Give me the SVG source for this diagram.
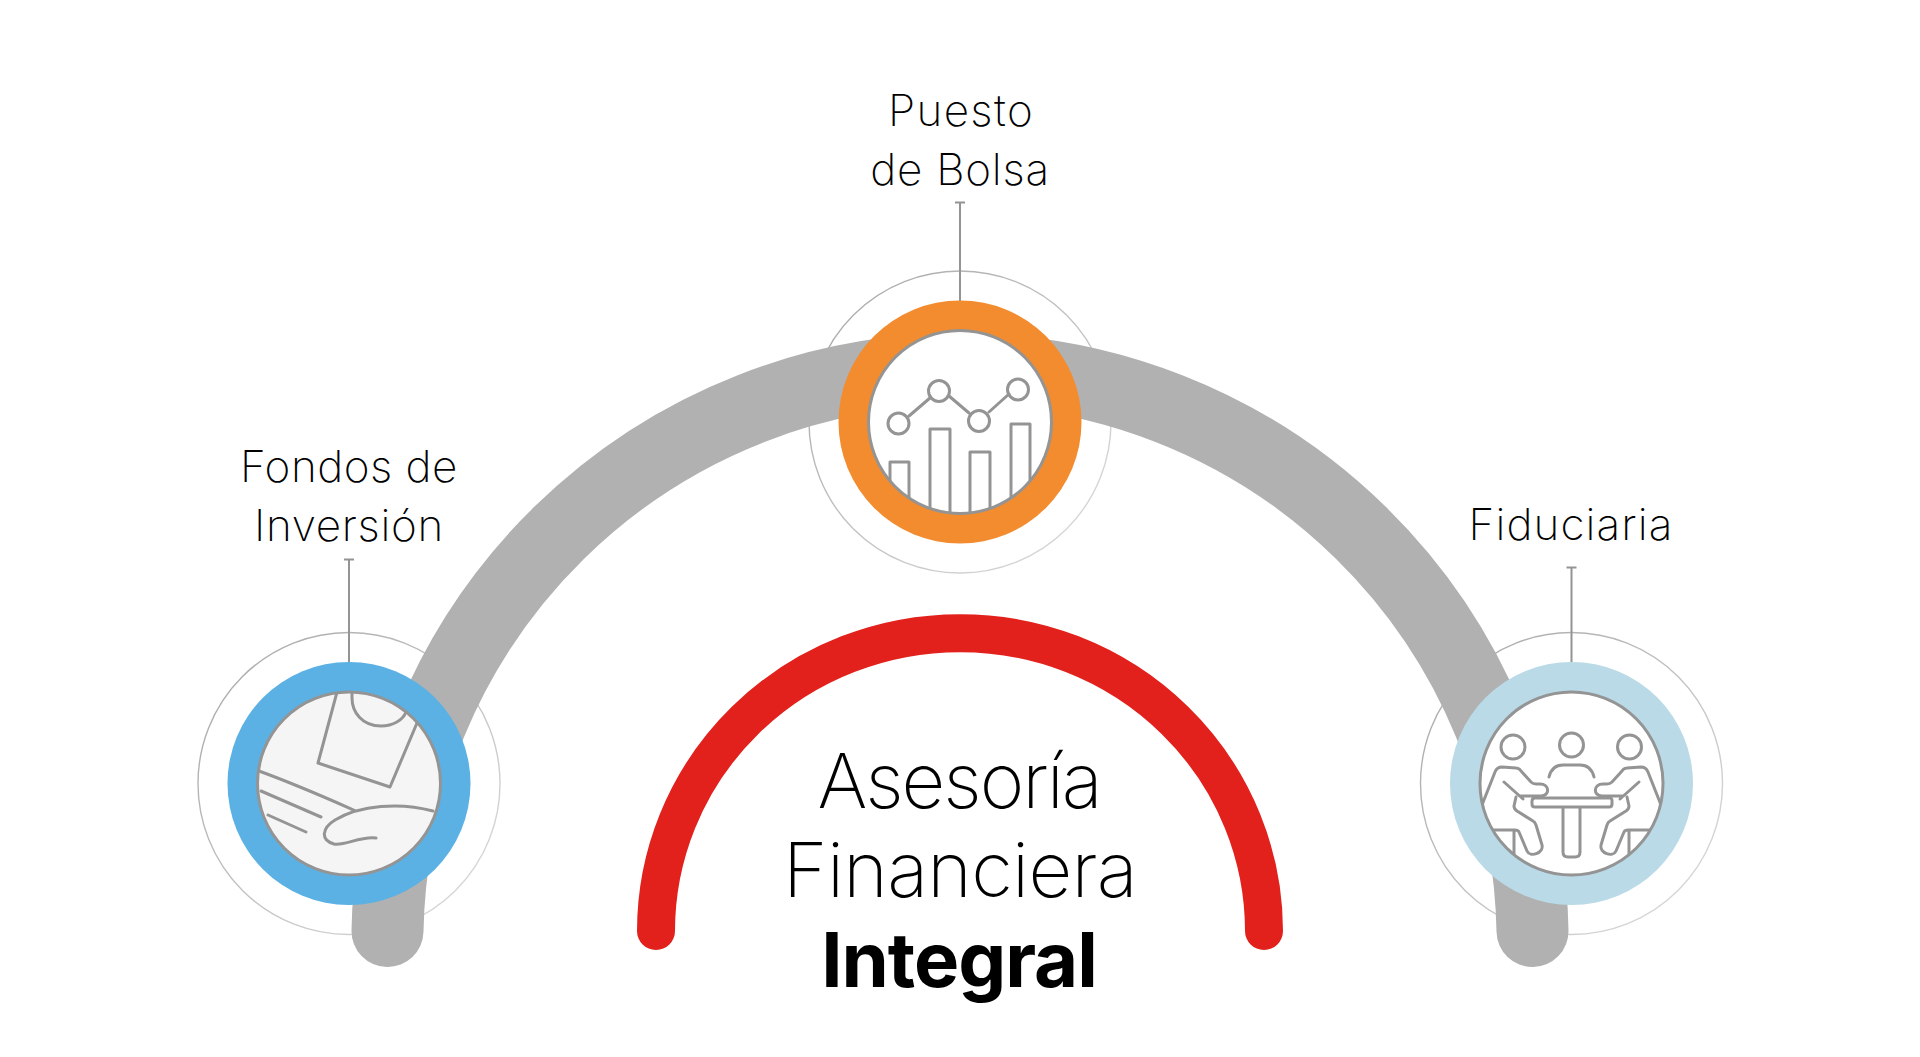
<svg xmlns="http://www.w3.org/2000/svg" width="1920" height="1057" viewBox="0 0 1920 1057">
<style>
.t{font-family:"Inter","Liberation Sans",sans-serif;font-weight:200;fill:#000;text-anchor:middle}
.l{font-size:44px}
.h{font-size:76px}
.halo{fill:#fff;stroke:url(#hg);stroke-width:1.4}
.inner{stroke:#949494;stroke-width:3}
.i{fill:none;stroke:#949494;stroke-width:3;stroke-linecap:round;stroke-linejoin:round}
.lead{fill:none;stroke:#949494;stroke-width:2}
</style>
<defs>
<linearGradient id="hg" x1="0" y1="0" x2="1" y2="1"><stop offset="0" stop-color="#a6a6a6"/><stop offset="1" stop-color="#dedede"/></linearGradient>
<clipPath id="c1"><circle cx="349" cy="783.5" r="91"/></clipPath>
<clipPath id="c2"><circle cx="960" cy="422" r="91"/></clipPath>
<clipPath id="c3"><circle cx="1571.5" cy="783.5" r="91"/></clipPath>
</defs>
<rect width="1920" height="1057" fill="#fff"/>
<g id="halos">
<circle class="halo" cx="349" cy="783.5" r="151"/>
<circle class="halo" cx="960" cy="422" r="151"/>
<circle class="halo" cx="1571.5" cy="783.5" r="151"/>
</g>
<g id="connectors">
<path d="M387.500 931A572.600 572.600 0 0 1 1532.500 931" fill="none" stroke="#b1b1b1" stroke-width="72" stroke-linecap="round"/>
<path class="lead" d="M349 559V680M344 559.500H354"/>
<path class="lead" d="M960 203V301M955 202.500H965"/>
<path class="lead" d="M1571.500 567V662M1566.500 567.500H1576.500"/>
</g>
<g id="arc-integral">
<path d="M656 931A304 298 0 0 1 1264 931" fill="none" stroke="#e2211c" stroke-width="38" stroke-linecap="round"/>
<text class="t h" x="959" y="808" letter-spacing="-2">Asesoría</text>
<text class="t h" x="960" y="897" letter-spacing="-0.7">Financiera</text>
<text class="t h" x="959" y="987" letter-spacing="-1" style="font-weight:700">Integral</text>
</g>
<g id="node-fondos">
<circle cx="349" cy="783.500" r="121.500" fill="#5bb1e3"/>
<circle class="inner" cx="349" cy="783.500" r="91.500" fill="#f5f5f5"/>
<g clip-path="url(#c1)"><path class="i" d="M337 692L318 763L390 787L417 723M352 690V698C352 712 362 726 381 726C393 726 403 720 406 712M259 771C300 786 340 804 356 811M261 791L321 817M268 815L306 832M433 811C400 802 360 805 335 820C322 828 320 840 334 844C345 846 360 836 376 838"/></g>
</g>
<g id="node-puesto">
<circle cx="960" cy="422" r="121.500" fill="#f28c2e"/>
<circle class="inner" cx="960" cy="422" r="91.500" fill="#fff"/>
<g clip-path="url(#c2)"><path class="i" d="M890 500V462H909V510M930 520V429H950V520M970 520V452H990V520M1011 510V424H1030V480M909 416L930 398M949 396L969 413M989 412L1009 394"/><circle class="i" cx="898.500" cy="423.500" r="10.500"/><circle class="i" cx="939" cy="391" r="10.500"/><circle class="i" cx="979" cy="421" r="10.500"/><circle class="i" cx="1018" cy="389.500" r="10.500"/></g>
</g>
<g id="node-fiduciaria">
<circle cx="1571.500" cy="783.500" r="121.500" fill="#b9dae6"/>
<circle class="inner" cx="1571.500" cy="783.500" r="91.500" fill="#fff"/>
<g clip-path="url(#c3)"><circle class="i" cx="1513" cy="747" r="12"/><circle class="i" cx="1571.500" cy="745" r="12"/><circle class="i" cx="1629.500" cy="747" r="12"/><path class="i" d="M1549 777C1551 769 1556 765 1563 765H1580C1587 765 1592 769 1594 777"/><path class="i" d="M1533 798H1610Q1612 798 1612 801V804Q1612 807 1609 807H1535Q1532 807 1532 804V801Q1532 798 1535 798ZM1563 808V852Q1563 857 1568 857H1575Q1580 857 1580 852V808"/><path class="i" d="M1482 805L1495 772Q1497 767 1502 767L1516 768Q1519 768 1521 771L1531 782Q1533 784 1536 784H1540C1550 784 1550 796 1541 796H1520M1504 782L1523 799M1516 797L1514 806Q1514 809 1517 811L1533 821Q1535 822 1536 825L1542 845C1544 853 1530 858 1527 851L1519 832Q1518 830 1515 830H1490M1514 831V855"/><path class="i" d="M1661 805L1648 772Q1646 767 1641 767L1627 768Q1624 768 1622 771L1612 782Q1610 784 1607 784H1603C1593 784 1593 796 1602 796H1623M1639 782L1620 799M1627 797L1629 806Q1629 809 1626 811L1610 821Q1608 822 1607 825L1601 845C1599 853 1613 858 1616 851L1624 832Q1625 830 1628 830H1653M1629 831V855"/></g>
</g>
<g id="labels">
<text class="t l" x="349" y="482" letter-spacing="0.5">Fondos de</text>
<text class="t l" x="349" y="541" letter-spacing="0.7">Inversión</text>
<text class="t l" x="961" y="126" letter-spacing="1.4">Puesto</text>
<text class="t l" x="960" y="185" letter-spacing="0.75">de Bolsa</text>
<text class="t l" x="1571" y="540" letter-spacing="1.1">Fiduciaria</text>
</g>
</svg>
